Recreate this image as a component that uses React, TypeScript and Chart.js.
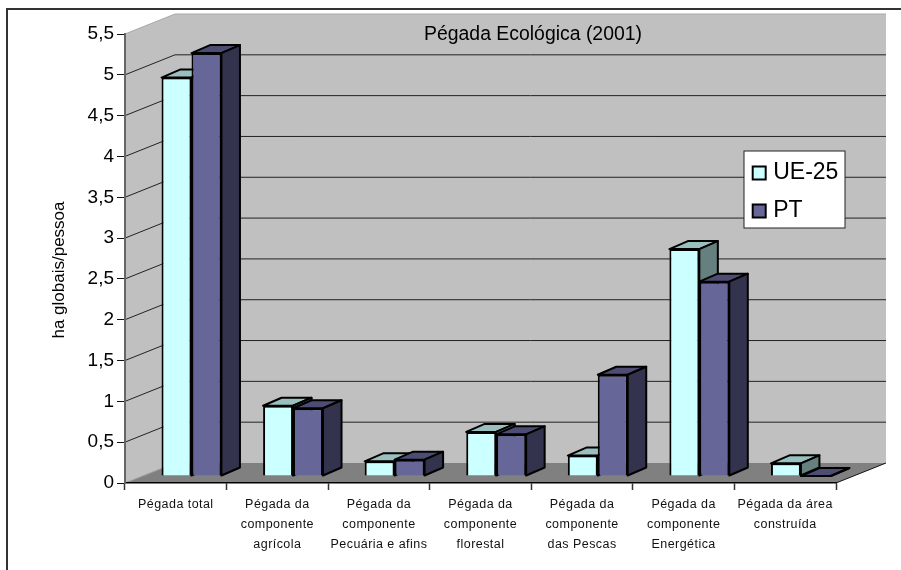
import React, { useEffect, useRef } from "react";
import { Chart, registerables } from "chart.js";

Chart.register(...registerables);

const categories = [
  ["Pégada total"],
  ["Pégada da", "componente", "agrícola"],
  ["Pégada da", "componente", "Pecuária e afins"],
  ["Pégada da", "componente", "florestal"],
  ["Pégada da", "componente", "das Pescas"],
  ["Pégada da", "componente", "Energética"],
  ["Pégada da área", "construída"],
];
const seriesUE = [4.88, 0.86, 0.18, 0.54, 0.25, 2.78, 0.155];
const seriesPT = [5.18, 0.83, 0.2, 0.51, 1.24, 2.38, 0];
const FONT = "'Liberation Sans', Arial, sans-serif";

const WALL = { dx: 50, dy: -20 };
const BAR_SHIFT = { dx: 15.7, dy: -7 };
const BAR_DEPTH = { dx: 18.5, dy: -8 };

function poly(ctx: CanvasRenderingContext2D, pts: number[][], fill?: string, stroke?: string, lw = 1) {
  ctx.beginPath();
  pts.forEach((p, i) => (i ? ctx.lineTo(p[0], p[1]) : ctx.moveTo(p[0], p[1])));
  ctx.closePath();
  if (fill) {
    ctx.fillStyle = fill;
    ctx.fill();
  }
  if (stroke) {
    ctx.strokeStyle = stroke;
    ctx.lineWidth = lw;
    ctx.lineJoin = "round";
    ctx.stroke();
  }
}

function drawExtrusions(chart: any, index: number) {
  const ctx = chart.ctx;
  const ds = chart.data.datasets[index];
  const meta = chart.getDatasetMeta(index);
  meta.data.forEach((el: any) => {
    const { x, y, base, width } = el.getProps(["x", "y", "base", "width"], true);
    const L = x - width / 2;
    const R = x + width / 2;
    const d = BAR_DEPTH;
    poly(ctx, [[L, y], [L + d.dx, y + d.dy], [R + d.dx, y + d.dy], [R, y]], ds.topColor, "#000", 2);
    poly(ctx, [[R, y], [R + d.dx, y + d.dy], [R + d.dx, base + d.dy], [R, base]], ds.sideColor, "#000", 2);
  });
}

const scene = {
  id: "scene",
  afterLayout(chart: any) {
    const t = chart.titleBlock;
    t.left = 424;
    t.right = 642;
    t.top = 23;
    t.bottom = 23 + t.height;
    const l = chart.legend;
    l.left = 737.7;
    l.top = 146.5;
    l.right = 846;
    l.bottom = 300;
    const x = chart.scales.x;
    if (!x.__wrapped) {
      x.__wrapped = true;
      const orig = x.drawLabels.bind(x);
      x.drawLabels = (a: any) => {
        chart.ctx.save();
        chart.ctx.letterSpacing = "0.45px";
        chart.ctx.translate(0, 1);
        orig(a);
        chart.ctx.restore();
      };
      const y = chart.scales.y;
      const origT = y.drawTitle.bind(y);
      y.drawTitle = (a: any) => {
        chart.ctx.save();
        chart.ctx.translate(0, 11.5);
        origT(a);
        chart.ctx.restore();
      };
      const origL = l.draw.bind(l);
      l.draw = () => {
        const c = chart.ctx;
        const ft = c.fillText;
        c.fillText = function (s: string, px: number, py: number, m?: number) {
          ft.call(c, s, px - 4, py, m);
        };
        origL();
        delete c.fillText;
      };
    }
  },
  beforeDraw(chart: any) {
    const { ctx, chartArea: a, scales } = chart;
    const y = scales.y;
    ctx.save();
    // frame
    ctx.fillStyle = "#fff";
    ctx.fillRect(0, 0, chart.width, chart.height);
    ctx.strokeStyle = "#333";
    ctx.lineWidth = 2;
    ctx.beginPath();
    ctx.moveTo(7, chart.height + 2);
    ctx.lineTo(7, 9);
    ctx.lineTo(chart.width + 2, 9);
    ctx.stroke();
    const bl = [a.left, a.bottom];
    const tl = [a.left, a.top];
    const br = [a.right, a.bottom];
    const bTL = [a.left + WALL.dx, a.top + WALL.dy];
    const bBL = [a.left + WALL.dx, a.bottom + WALL.dy];
    const bBR = [a.right + WALL.dx, a.bottom + WALL.dy];
    const bTR = [a.right + WALL.dx, a.top + WALL.dy];
    // walls
    poly(ctx, [bTL, bTR, bBR, bBL], "#C0C0C0");
    poly(ctx, [tl, bTL, bBL, bl], "#C0C0C0");
    ctx.strokeStyle = "#A8A8A8";
    ctx.lineWidth = 1;
    ctx.beginPath();
    ctx.moveTo(tl[0], tl[1]);
    ctx.lineTo(bTL[0], bTL[1]);
    ctx.lineTo(bTR[0], bTR[1]);
    ctx.stroke();
    // floor
    poly(ctx, [bl, bBL, bBR, br], "#808080");
    ctx.strokeStyle = "#111";
    ctx.lineWidth = 1;
    ctx.beginPath();
    ctx.moveTo(br[0], br[1]);
    ctx.lineTo(bBR[0], bBR[1]);
    ctx.stroke();
    ctx.strokeStyle = "#A0A0A0";
    ctx.beginPath();
    ctx.moveTo(bl[0], bl[1]);
    ctx.lineTo(bBL[0], bBL[1]);
    ctx.stroke();
    // gridlines
    ctx.strokeStyle = "#222";
    ctx.lineWidth = 1;
    y.ticks.forEach((tk: any) => {
      if (tk.value === 0 || tk.value === 5.5) return;
      const py = y.getPixelForValue(tk.value);
      ctx.beginPath();
      ctx.moveTo(a.left, py);
      ctx.lineTo(a.left + WALL.dx, py + WALL.dy);
      ctx.lineTo(a.right + WALL.dx, py + WALL.dy);
      ctx.stroke();
    });
    // legend box
    ctx.fillStyle = "#fff";
    ctx.strokeStyle = "#222";
    ctx.lineWidth = 1;
    ctx.fillRect(744, 151, 101, 77);
    ctx.strokeRect(744, 151, 101, 77);
    ctx.restore();
  },
  // Chart.js paints the last dataset first; here UE-25 must be painted first
  // so that the PT bars cover its side face, so PT is painted right after it.
  beforeDatasetDraw(chart: any, args: any) {
    if (args.index === 1) return false;
    chart.ctx.save();
    chart.ctx.translate(BAR_SHIFT.dx, BAR_SHIFT.dy);
  },
  afterDatasetDraw(chart: any, args: any) {
    if (args.index !== 0) return;
    drawExtrusions(chart, 0);
    chart.getDatasetMeta(1).controller.draw();
    drawExtrusions(chart, 1);
    chart.ctx.restore();
  },
};

export default function App() {
  const ref = useRef<HTMLCanvasElement>(null);
  useEffect(() => {
    const chart = new Chart(ref.current!, {
      type: "bar",
      data: {
        labels: categories as any,
        datasets: [
          {
            label: "UE-25",
            data: seriesUE,
            backgroundColor: "#CCFFFF",
            borderColor: "#000",
            borderWidth: 2,
            clip: false,
            topColor: "#99BFBF",
            sideColor: "#668080",
          } as any,
          {
            label: "PT",
            data: seriesPT,
            backgroundColor: "#666699",
            borderColor: "#000",
            borderWidth: 2,
            clip: false,
            topColor: "#4D4D73",
            sideColor: "#33334D",
          } as any,
        ],
      },
      options: {
        animation: false,
        responsive: false,
        devicePixelRatio: 1,
        layout: { padding: { left: 0, right: 65, top: 10.6, bottom: 0 } },
        datasets: { bar: { categoryPercentage: 0.59, barPercentage: 1 } },
        plugins: {
          tooltip: { enabled: false },
          title: {
            display: true,
            text: "Pégada Ecológica (2001)",
            color: "#000",
            padding: 0,
            font: { family: FONT, size: 19.5, weight: "normal" },
          },
          legend: {
            display: true,
            position: "chartArea" as any,
            align: "start",
            labels: {
              color: "#000",
              boxWidth: 13,
              boxHeight: 13,
              padding: 15,
              font: { family: FONT, size: 23 },
            },
          },
        },
        scales: {
          x: {
            afterFit: (s: any) => {
              s.height = 87;
            },
            border: { color: "#000", width: 1.5 },
            grid: { drawOnChartArea: false, tickLength: 7, tickColor: "#333", tickWidth: 1.5 },
            ticks: {
              autoSkip: false,
              maxRotation: 0,
              minRotation: 0,
              padding: 4,
              color: "#111",
              font: { family: FONT, size: 12.5, lineHeight: 1.6 },
            },
          },
          y: {
            min: 0,
            max: 5.5,
            afterFit: (s: any) => {
              s.width = 125;
            },
            border: { color: "#666", width: 2 },
            grid: { drawOnChartArea: false, tickLength: 8, tickColor: "#111", tickWidth: 1 },
            ticks: {
              stepSize: 0.5,
              padding: 3,
              color: "#000",
              font: { family: FONT, size: 19 },
              callback: (v: any) => String(v).replace(".", ","),
            },
            title: {
              display: true,
              text: "ha globais/pessoa",
              color: "#000",
              padding: { top: 49, bottom: 0 },
              font: { family: FONT, size: 17 },
            },
          },
        },
      },
      plugins: [scene],
    } as any);
    return () => chart.destroy();
  }, []);
  return (
    <div style={{ position: "absolute", left: 0, top: 0, width: 901, height: 570 }}>
      <canvas ref={ref} width={901} height={570} style={{ display: "block" }} />
    </div>
  );
}
